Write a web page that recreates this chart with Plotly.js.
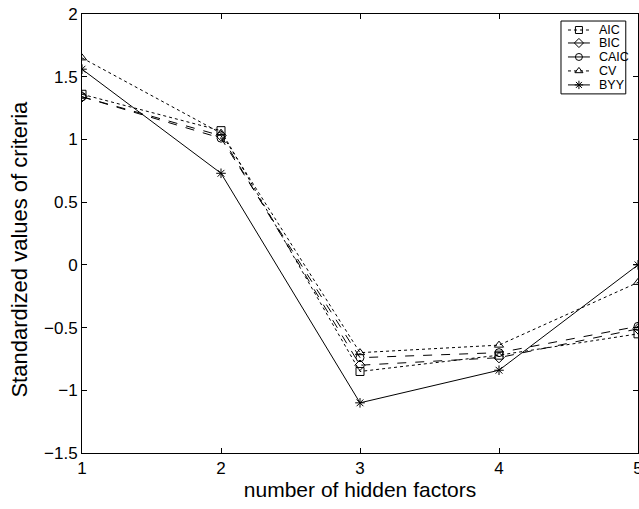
<!DOCTYPE html>
<html>
<head>
<meta charset="utf-8">
<script src="https://cdn.plot.ly/plotly-3.0.1.min.js"></script>
<style>
  html, body { margin: 0; padding: 0; background: #fff; }
  #chart { width: 639px; height: 509px; }
</style>
</head>
<body>
<div id="chart"></div>
<script>
// Number of hidden factors on the x axis
const factors = [1, 2, 3, 4, 5];

// Standardized criterion values per model-selection method
const aic  = [1.36, 1.07, -0.85, -0.72, -0.55];
const bic  = [1.34, 1.03, -0.80, -0.74, -0.51];
const caic = [1.34, 1.01, -0.74, -0.70, -0.49];
const cv   = [1.65, 1.05, -0.70, -0.64, -0.14];
const byy  = [1.56, 0.73, -1.10, -0.84, 0.00];

const seriesNames = ['AIC', 'BIC', 'CAIC', 'CV', 'BYY'];
const yTicks = [-1.5, -1, -0.5, 0, 0.5, 1, 1.5, 2];
const xTicks = [1, 2, 3, 4, 5];

const FONT = 'Liberation Sans, Arial, Helvetica, sans-serif';

// line dash + marker symbol for each method
const styles = [
  { dash: 'dot',   symbol: 'square-open' },
  { dash: 'dash',  symbol: 'diamond-open' },
  { dash: 'dash',  symbol: 'circle-open' },
  { dash: 'dot',   symbol: 'triangle-up-open' },
  { dash: 'solid', symbol: 'asterisk-open' }
];
const values = [aic, bic, caic, cv, byy];

const data = values.map((y, i) => ({
  x: factors, y: y, name: seriesNames[i], type: 'scatter', mode: 'lines+markers',
  showlegend: false,
  line: { color: '#000', width: 1, dash: styles[i].dash },
  marker: { symbol: styles[i].symbol, size: 8, color: '#000', line: { color: '#000', width: 1 } }
}));

// Compact boxed legend drawn on its own small subplot (x2/y2, units = pixels inside the box)
const legDomX = [0.8615, 0.978], legDomY = [0.818, 0.984];
const legW = 65, legH = 73;
const rowY = [9, 22, 36, 50, 64];
seriesNames.forEach((name, i) => {
  data.push({
    x: [7, 18, 29], y: [rowY[i], rowY[i], rowY[i]],
    xaxis: 'x2', yaxis: 'y2', type: 'scatter', mode: 'lines+markers',
    showlegend: false, hoverinfo: 'skip',
    line: { color: '#000', width: 1, dash: styles[i].dash === 'dot' ? 'dot' : 'solid' },
    marker: { symbol: styles[i].symbol, size: 7, color: '#000', opacity: [0, 1, 0],
              line: { color: '#000', width: 1 } }
  });
});

const annotations = seriesNames.map((name, i) => ({
  xref: 'x2', yref: 'y2', x: 36, y: rowY[i], xanchor: 'left', yanchor: 'middle',
  text: name, showarrow: false, font: { family: FONT, size: 12.5, color: '#000' }
}));

// y-axis label, placed as a rotated annotation
annotations.push({
  xref: 'paper', yref: 'paper', x: -0.112, y: 0.465, xanchor: 'center', yanchor: 'middle',
  textangle: -90, showarrow: false,
  text: 'Standardized values of criteria', font: { family: FONT, size: 22, color: '#000' }
});

const axisFont = { family: FONT, size: 17, color: '#000' };

const layout = {
  width: 639, height: 509,
  margin: { l: 82, r: 1, t: 14, b: 56 },
  paper_bgcolor: '#fff', plot_bgcolor: '#fff',
  showlegend: false,
  font: { family: FONT, color: '#000' },
  xaxis: {
    domain: [0, 1], range: [1, 5], tickvals: xTicks, ticktext: xTicks.map(String),
    ticks: 'inside', ticklen: 5, tickcolor: '#000', tickwidth: 1,
    showline: true, linecolor: '#000', linewidth: 1, mirror: 'ticks',
    showgrid: false, zeroline: false, ticklabeloverflow: 'allow',
    tickfont: axisFont,
    title: { text: 'number of hidden factors', font: { family: FONT, size: 21, color: '#000' }, standoff: 4 }
  },
  yaxis: {
    domain: [0, 1], range: [-1.5, 2], tickvals: yTicks,
    ticktext: yTicks.map(v => (v < 0 ? '\u2212' + Math.abs(v) : String(v))),
    ticks: 'inside', ticklen: 5, tickcolor: '#000', tickwidth: 1,
    showline: true, linecolor: '#000', linewidth: 1, mirror: 'ticks',
    showgrid: false, zeroline: false,
    tickfont: axisFont
  },
  xaxis2: {
    domain: legDomX, range: [0, legW], anchor: 'y2',
    visible: false, fixedrange: true
  },
  yaxis2: {
    domain: legDomY, range: [legH, 0], anchor: 'x2',
    visible: false, fixedrange: true
  },
  // legend frame
  shapes: [{
    type: 'rect', xref: 'paper', yref: 'paper',
    x0: legDomX[0], x1: legDomX[1], y0: legDomY[0], y1: legDomY[1],
    line: { color: '#000', width: 1 }, fillcolor: 'rgba(0,0,0,0)', layer: 'above'
  }],
  annotations: annotations
};

Plotly.newPlot('chart', data, layout, { displayModeBar: false, staticPlot: true });
</script>
</body>
</html>
